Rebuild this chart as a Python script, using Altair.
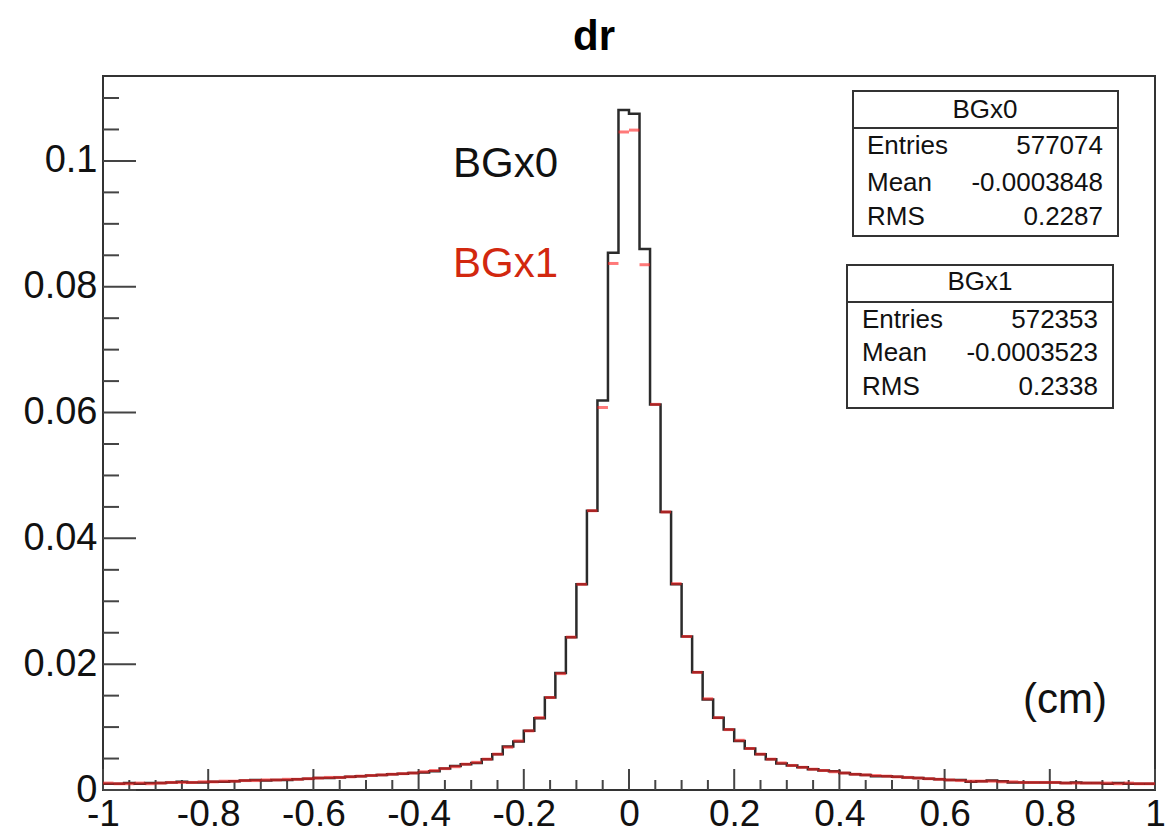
import altair as alt
import numpy as np
import pandas as pd

# ---------------- data ----------------
title_text = "dr"
x_major = [-1.0, -0.8, -0.6, -0.4, -0.2, 0.0, 0.2, 0.4, 0.6, 0.8, 1.0]
y_major = [0.0, 0.02, 0.04, 0.06, 0.08, 0.10]

# BGx0 histogram (black), 100 bins of width 0.02 from -1 to 1
bgx0 = [
    0.0010, 0.0010, 0.0011, 0.0010, 0.0011,   # -1.00 .. -0.92
    0.0011, 0.0012, 0.0013, 0.0012, 0.0012,   # -0.90 .. -0.82
    0.0013, 0.0013, 0.0014, 0.0015, 0.0016,   # -0.80 .. -0.72
    0.0015, 0.0016, 0.0016, 0.0017, 0.0018,   # -0.70 .. -0.62
    0.0019, 0.0019, 0.0020, 0.0021, 0.0022,   # -0.60 .. -0.52
    0.0023, 0.0024, 0.0025, 0.0026, 0.0027,   # -0.50 .. -0.42
    0.0028, 0.0030, 0.0034, 0.0038, 0.0041,   # -0.40 .. -0.32
    0.0043, 0.0049, 0.0057, 0.0069, 0.0077,   # -0.30 .. -0.22
    0.0094, 0.0114, 0.0147, 0.0186, 0.0243,   # -0.20 .. -0.12
    0.0327, 0.0444, 0.0619, 0.0854, 0.1081,   # -0.10 .. -0.02
    0.1075, 0.0860, 0.0613, 0.0442, 0.0327,   #  0.00 ..  0.08
    0.0244, 0.0187, 0.0144, 0.0115, 0.0096,   #  0.10 ..  0.18
    0.0078, 0.0066, 0.0057, 0.0049, 0.0042,   #  0.20 ..  0.28
    0.0039, 0.0036, 0.0033, 0.0031, 0.0030,   #  0.30 ..  0.38
    0.0027, 0.0025, 0.0024, 0.0022, 0.0022,   #  0.40 ..  0.48
    0.0021, 0.0020, 0.0019, 0.0018, 0.0017,   #  0.50 ..  0.58
    0.0016, 0.0016, 0.0013, 0.0014, 0.0015,   #  0.60 ..  0.68
    0.0014, 0.0012, 0.0012, 0.0012, 0.0012,   #  0.70 ..  0.78
    0.0012, 0.0011, 0.0012, 0.0011, 0.0011,   #  0.80 ..  0.88
    0.0010, 0.0011, 0.0010, 0.0010, 0.0010,   #  0.90 ..  0.98
]

# BGx1 histogram (red)
bgx1 = [
    0.0011, 0.0010, 0.0010, 0.0011, 0.0010,
    0.0011, 0.0012, 0.0012, 0.0012, 0.0013,
    0.0013, 0.0014, 0.0014, 0.0015, 0.0015,
    0.0016, 0.0016, 0.0017, 0.0017, 0.0018,
    0.0019, 0.0020, 0.0020, 0.0021, 0.0022,
    0.0023, 0.0024, 0.0025, 0.0026, 0.0027,
    0.0029, 0.0031, 0.0034, 0.0037, 0.0041,
    0.0044, 0.0049, 0.0057, 0.0068, 0.0078,
    0.0094, 0.0115, 0.0147, 0.0185, 0.0243,
    0.0327, 0.0444, 0.0608, 0.0837, 0.1046,
    0.1049, 0.0835, 0.0613, 0.0442, 0.0328,
    0.0244, 0.0187, 0.0145, 0.0115, 0.0096,
    0.0079, 0.0066, 0.0057, 0.0049, 0.0043,
    0.0039, 0.0036, 0.0033, 0.0031, 0.0029,
    0.0027, 0.0025, 0.0024, 0.0023, 0.0022,
    0.0021, 0.0020, 0.0019, 0.0018, 0.0017,
    0.0016, 0.0015, 0.0014, 0.0014, 0.0014,
    0.0013, 0.0013, 0.0012, 0.0012, 0.0012,
    0.0012, 0.0011, 0.0011, 0.0011, 0.0011,
    0.0011, 0.0010, 0.0011, 0.0010, 0.0010,
]

stat_labels = ["Entries", "Mean", "RMS"]
bgx0_stats = ["577074", "-0.0003848", "0.2287"]
bgx1_stats = ["572353", "-0.0003523", "0.2338"]

# ---------------- layout ----------------
W, H = 1052, 714
FONT = "Liberation Sans"
RED_TXT = "#d2280f"

edges = np.round(np.linspace(-1, 1, 101), 4)
hist0 = pd.DataFrame({"x": edges, "y": bgx0 + [bgx0[-1]]})
hist1 = pd.DataFrame({"lo": edges[:-1], "hi": edges[1:], "y": bgx1})

y_minor = [v for v in np.round(np.arange(0, 0.1101, 0.005), 4) if round(v / 0.02, 6) % 1 != 0]
x_minor = [v for v in np.round(np.arange(-1, 1.0001, 0.05), 4) if round(v / 0.2, 6) % 1 != 0]

xscale = alt.Scale(domain=[-1, 1], nice=False, zero=False)
yscale = alt.Scale(domain=[0, 0.1135], nice=False, zero=False)

xaxis = alt.Axis(values=x_major, ticks=False, domain=False, grid=False, title=None,
                 labelExpr="(datum.value < 0 ? '-' : '') + format(abs(datum.value), '~g')",
                 labelPadding=6, labelFlush=False, labelOverlap=False,
                 labelFont=FONT, labelFontSize=37, labelColor="#111")
yaxis = alt.Axis(values=y_major, format="~g", ticks=False, domain=False, grid=False, title=None,
                 labelPadding=6, labelOverlap=False,
                 labelFont=FONT, labelFontSize=38, labelColor="#111")

one = pd.DataFrame({"a": [0]})


def txt(text, x, y, size, align="left", baseline="alphabetic", color="#111", weight="normal"):
    return alt.Chart(pd.DataFrame({"t": [text]})).mark_text(
        font=FONT, fontSize=size, align=align, baseline=baseline, color=color, fontWeight=weight
    ).encode(x=alt.value(x), y=alt.value(y), text="t:N")


def box(x0, x1, y0, y1, yh):
    r = alt.Chart(one).mark_rect(fill="white", stroke="#333", strokeWidth=2).encode(
        x=alt.value(x0), x2=alt.value(x1), y=alt.value(y0), y2=alt.value(y1))
    h = alt.Chart(one).mark_rule(color="#333", strokeWidth=2).encode(
        x=alt.value(x0), x2=alt.value(x1), y=alt.value(yh))
    return [r, h]


# inward ticks (ROOT style)
ytick_major = alt.Chart(pd.DataFrame({"v": y_major})).mark_rule(color="#444", strokeWidth=2).encode(
    y=alt.Y("v:Q", scale=yscale, axis=yaxis), x=alt.value(0), x2=alt.value(33))
ytick_minor = alt.Chart(pd.DataFrame({"v": y_minor})).mark_rule(color="#444", strokeWidth=2).encode(
    y=alt.Y("v:Q", scale=yscale, axis=yaxis), x=alt.value(0), x2=alt.value(16))
xtick_major = alt.Chart(pd.DataFrame({"v": x_major})).mark_rule(color="#444", strokeWidth=2).encode(
    x=alt.X("v:Q", scale=xscale, axis=xaxis), y=alt.value(H), y2=alt.value(H - 21))
xtick_minor = alt.Chart(pd.DataFrame({"v": x_minor})).mark_rule(color="#444", strokeWidth=2).encode(
    x=alt.X("v:Q", scale=xscale, axis=xaxis), y=alt.value(H), y2=alt.value(H - 10))

line0 = alt.Chart(hist0).mark_line(interpolate="step-after", color="#2b2b2b", strokeWidth=2.5).encode(
    x=alt.X("x:Q", scale=xscale, axis=xaxis),
    y=alt.Y("y:Q", scale=yscale, axis=yaxis))

marks1 = alt.Chart(hist1).mark_rule(color="#ff2020", strokeWidth=3, opacity=0.6).encode(
    x=alt.X("lo:Q", scale=xscale, axis=xaxis), x2="hi:Q",
    y=alt.Y("y:Q", scale=yscale, axis=yaxis))

layers = [ytick_major, ytick_minor, xtick_major, xtick_minor, line0, marks1]

# annotations
layers += [
    txt(title_text, 491, -26, 42, align="center", weight="bold", color="#000"),
    txt("BGx0", 350, 101, 42, color="#111"),
    txt("BGx1", 350, 201, 42, color=RED_TXT),
    txt("(cm)", 920, 637, 42, color="#111"),
]

# stat boxes
layers += box(750, 1015, 15, 160, 52)
layers += [txt("BGx0", 882, 34, 26, align="center", baseline="middle")]
for lab, val, yy in zip(stat_labels, bgx0_stats, [70, 107, 141]):
    layers += [txt(lab, 764, yy, 26, baseline="middle"),
               txt(val, 1000, yy, 26, align="right", baseline="middle")]

layers += box(744, 1010, 189, 332, 226)
layers += [txt("BGx1", 877, 206, 26, align="center", baseline="middle")]
for lab, val, yy in zip(stat_labels, bgx1_stats, [244, 277, 311]):
    layers += [txt(lab, 759, yy, 26, baseline="middle"),
               txt(val, 995, yy, 26, align="right", baseline="middle")]

chart = alt.layer(*layers).properties(
    width=W, height=H,
    autosize=alt.AutoSizeParams(type="none"),
    padding={"left": 103, "top": 76, "right": 10, "bottom": 41},
    background="white",
).configure_view(stroke="#333", strokeWidth=2)

chart.save("out.html", embed_options={"renderer": "svg", "actions": False})
